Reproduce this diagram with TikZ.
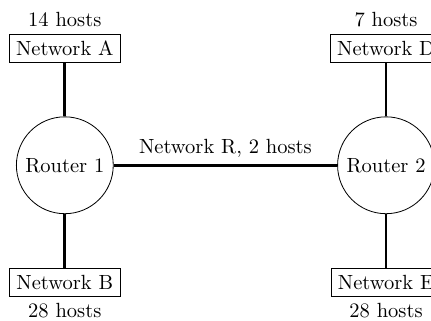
\documentclass[tikz,border=0pt]{standalone}
\begin{document}
\begin{tikzpicture}
        \useasboundingbox (-1.11,-2.66) rectangle (6.27,2.83);
        \node[draw,circle,minimum size=1.63cm] (r1) at (0,0){Router 1};
        \node[draw,circle,minimum size=1.63cm] (r2) at (5.5,0){Router 2};
        \node[draw] (netA) at (0,2){Network A};
        \node[draw] (netB) at (0,-2){Network B};
        \node[draw] (netD) at (5.5,2){Network D};
        \node[draw] (netE) at (5.5,-2){Network E};
        \node (hostsA) at (0,2.49){14 hosts};
        \node (hostsB) at (0,-2.49){28 hosts};
        \node (hostsD) at (5.5,2.49){7 hosts};
        \node (hostsE) at (5.5,-2.49){28 hosts};

        \draw[line width=1.4pt] (netA) -- (r1);
        \draw[line width=1.4pt] (netB) -- (r1);
        \draw[line width=1.4pt] (netD) -- (r2);
        \draw[line width=1.4pt] (netE) -- (r2);
        \draw[line width=1.4pt] (r1) -- node[above] (netR) {Network R, 2 hosts} (r2);
    \end{tikzpicture}
\end{document}
